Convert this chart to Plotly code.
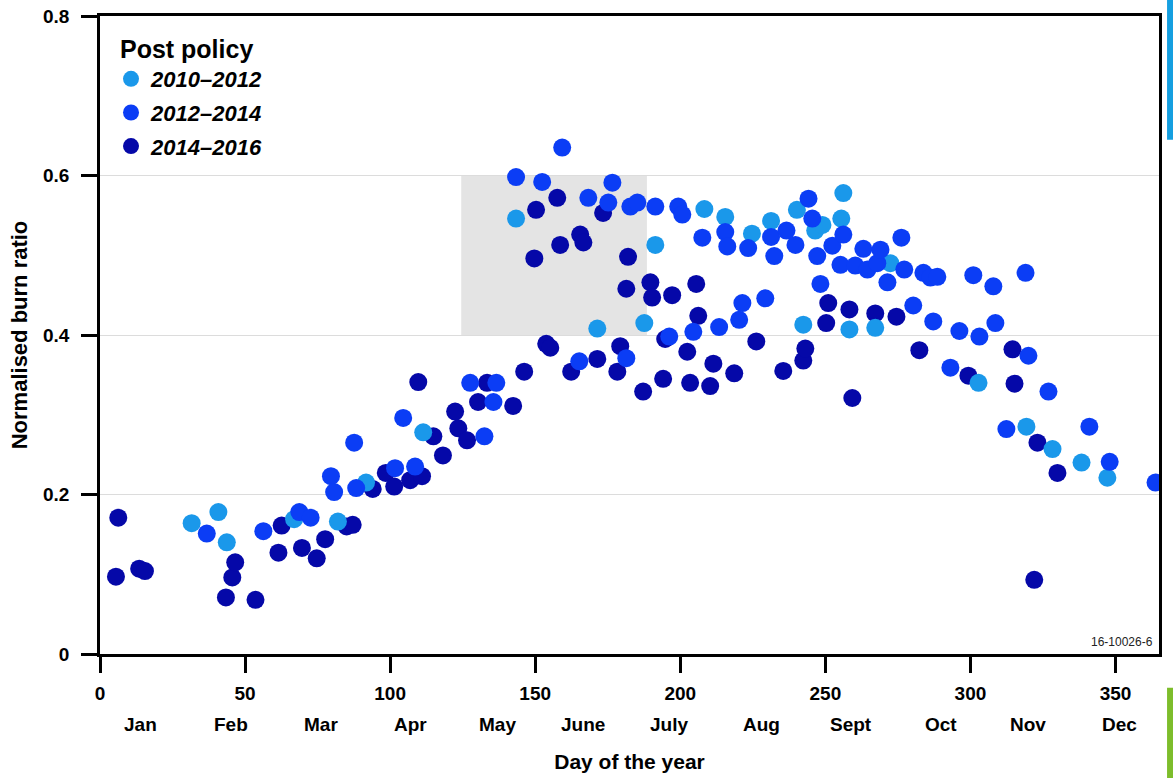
import plotly.graph_objects as go

# Values: day of the year and normalised burn ratio
days_2010_2012 = [31.6, 40.8, 43.7, 66.9, 82.0, 91.7, 111.4, 143.4, 171.4, 187.6,
                  191.4, 208.3, 215.5, 224.7, 231.3, 240.2, 242.4, 246.5, 249.0, 255.5,
                  256.2, 258.3, 267.2, 272.4, 302.8, 319.3, 328.3, 338.3, 347.2]
ratio_2010_2012 = [0.164, 0.178, 0.140, 0.169, 0.166, 0.215, 0.278, 0.546, 0.408, 0.415,
                   0.513, 0.558, 0.548, 0.527, 0.543, 0.557, 0.413, 0.531, 0.538, 0.546,
                   0.578, 0.407, 0.409, 0.490, 0.340, 0.285, 0.257, 0.240, 0.221]

days_2012_2014 = [36.8, 56.3, 68.7, 72.6, 79.6, 80.7, 87.6, 88.3, 101.7, 104.5,
                  108.6, 127.6, 132.5, 135.6, 136.6, 143.4, 152.4, 159.3, 165.2, 168.3,
                  175.2, 176.6, 181.4, 182.8, 185.2, 191.4, 196.2, 199.3, 200.7, 204.5,
                  207.6, 213.4, 215.5, 216.2, 220.3, 221.4, 223.4, 229.3, 231.3, 232.4,
                  236.6, 239.7, 244.2, 245.5, 247.2, 248.3, 252.4, 255.2, 256.2, 260.3,
                  263.1, 264.5, 267.9, 269.0, 271.4, 276.2, 277.2, 280.3, 283.8, 286.2,
                  287.2, 288.6, 293.1, 296.2, 301.0, 303.1, 307.9, 308.6, 312.4, 319.0,
                  320.0, 326.9, 341.0, 348.0, 363.8]
ratio_2012_2014 = [0.151, 0.154, 0.178, 0.171, 0.223, 0.203, 0.265, 0.208, 0.233, 0.296,
                   0.235, 0.340, 0.273, 0.316, 0.340, 0.598, 0.592, 0.635, 0.367, 0.572,
                   0.566, 0.591, 0.371, 0.561, 0.566, 0.561, 0.398, 0.561, 0.551, 0.404,
                   0.522, 0.410, 0.529, 0.511, 0.419, 0.440, 0.509, 0.446, 0.523, 0.499,
                   0.531, 0.513, 0.571, 0.546, 0.499, 0.464, 0.512, 0.488, 0.526, 0.487,
                   0.508, 0.482, 0.490, 0.507, 0.466, 0.522, 0.482, 0.437, 0.478, 0.472,
                   0.417, 0.473, 0.359, 0.405, 0.475, 0.398, 0.461, 0.415, 0.282, 0.478,
                   0.374, 0.329, 0.285, 0.241, 0.215]

days_2014_2016 = [5.5, 6.3, 13.5, 15.5, 43.4, 45.6, 46.6, 53.6, 61.5, 62.6,
                  69.6, 74.7, 77.6, 85.0, 87.1, 94.0, 98.5, 101.4, 106.9, 109.7,
                  111.0, 114.9, 118.2, 122.4, 123.5, 126.5, 130.3, 133.4, 142.4, 146.2,
                  149.7, 150.3, 153.8, 155.2, 157.6, 158.6, 162.4, 165.5, 166.6, 171.4,
                  173.4, 178.3, 179.3, 181.4, 182.0, 187.2, 189.7, 190.3, 194.1, 194.8,
                  197.2, 202.4, 203.4, 205.5, 206.2, 210.3, 211.4, 218.6, 226.2, 235.5,
                  242.4, 243.1, 250.3, 251.0, 258.3, 259.3, 267.2, 274.5, 282.4, 299.3,
                  314.5, 315.2, 322.0, 323.1, 330.0]
ratio_2014_2016 = [0.097, 0.171, 0.107, 0.104, 0.071, 0.096, 0.115, 0.068, 0.127, 0.161,
                   0.133, 0.120, 0.144, 0.160, 0.162, 0.207, 0.227, 0.210, 0.218, 0.341,
                   0.223, 0.273, 0.249, 0.304, 0.283, 0.268, 0.316, 0.340, 0.311, 0.354,
                   0.496, 0.557, 0.389, 0.384, 0.572, 0.513, 0.354, 0.526, 0.516, 0.370,
                   0.553, 0.354, 0.386, 0.458, 0.498, 0.329, 0.466, 0.447, 0.345, 0.395,
                   0.450, 0.379, 0.340, 0.464, 0.424, 0.336, 0.364, 0.352, 0.392, 0.355,
                   0.368, 0.383, 0.415, 0.440, 0.432, 0.321, 0.427, 0.423, 0.381, 0.349,
                   0.382, 0.339, 0.093, 0.265, 0.227]

month_names = ["Jan", "Feb", "Mar", "Apr", "May", "June", "July", "Aug", "Sept", "Oct", "Nov", "Dec"]
month_days = [14, 45, 76, 107, 137, 166.5, 196, 228, 259, 290, 320, 351.5]

# shaded window
highlight_days = [124.5, 188.5]
highlight_ratio = [0.4, 0.6]

font_family = "Liberation Sans, Arial, sans-serif"

series = [
    # drawn in this order: darkest first so the lighter blues sit on top
    ("2014–2016", days_2014_2016, ratio_2014_2016, "#0508a8", 3),
    ("2010–2012", days_2010_2012, ratio_2010_2012, "#1a98ea", 1),
    ("2012–2014", days_2012_2014, ratio_2012_2014, "#0b3df5", 2),
]

fig = go.Figure()
for name, x, y, color, rank in series:
    fig.add_trace(go.Scatter(
        x=x, y=y, mode="markers", name=name,
        legendgroup=name, legendrank=rank,
        marker=dict(color=color, size=18, line=dict(width=0)),
    ))

fig.add_shape(
    type="rect", xref="x", yref="y",
    x0=highlight_days[0], x1=highlight_days[1],
    y0=highlight_ratio[0], y1=highlight_ratio[1],
    fillcolor="#e4e4e4", line=dict(width=0), layer="below",
)

# page decorations at the right edge
fig.add_shape(type="rect", xref="paper", yref="paper", x0=1.0076, x1=1.02, y0=0.806, y1=1.03,
              fillcolor="#159fe0", line=dict(width=0))
fig.add_shape(type="rect", xref="paper", yref="paper", x0=1.0076, x1=1.02, y0=-0.2, y1=-0.053,
              fillcolor="#7dbd2b", line=dict(width=0))

for name, d in zip(month_names, month_days):
    fig.add_annotation(x=d, y=0, xref="x", yref="paper", text=name, showarrow=False,
                       yanchor="middle", yshift=-70,
                       font=dict(family=font_family, size=19, color="black", weight="bold"))

fig.add_annotation(x=1, y=0, xref="paper", yref="paper", text="16-10026-6", showarrow=False,
                   xanchor="right", yanchor="bottom", xshift=-4, yshift=3,
                   font=dict(family=font_family, size=12, color="#222"))

fig.update_layout(
    width=1173, height=778,
    margin=dict(l=100, r=14, t=16, b=124, autoexpand=False),
    paper_bgcolor="white", plot_bgcolor="white",
    showlegend=True,
    legend=dict(
        x=0.0104, y=0.985, xanchor="left", yanchor="top",
        bgcolor="rgba(0,0,0,0)", tracegroupgap=2,
        title=dict(text="&nbsp;Post policy",
                   font=dict(family=font_family, size=25, weight="bold", style="normal", color="black")),
        font=dict(family=font_family, size=22, weight="bold", style="italic", color="black"),
    ),
    xaxis=dict(
        range=[0, 365], tick0=0, dtick=50, showgrid=False, zeroline=False, automargin=False,
        showline=True, linecolor="black", linewidth=2.5, mirror=True,
        ticks="outside", ticklen=16, tickwidth=2.5, tickcolor="black",
        ticklabelstandoff=4,
        tickfont=dict(family=font_family, size=19, color="black", weight="bold"),
        title=dict(text="Day of the year", standoff=52,
                   font=dict(family=font_family, size=21, color="black", weight="bold")),
    ),
    yaxis=dict(
        range=[0, 0.8], tick0=0, dtick=0.2, showgrid=True, gridcolor="#dcdcdc", gridwidth=1,
        zeroline=False, showline=True, linecolor="black", linewidth=2.5, mirror=True,
        automargin=False, ticklabeloverflow="allow",
        ticks="outside", ticklen=16, tickwidth=2.5, tickcolor="black",
        ticklabelstandoff=8,
        tickfont=dict(family=font_family, size=19, color="black", weight="bold"),
        title=dict(text="Normalised burn ratio", standoff=10,
                   font=dict(family=font_family, size=22, color="black", weight="bold")),
    ),
)

# drop the browser's default body margin so the figure fills the window exactly
fig.write_html("out.html", config={"displayModeBar": False},
               post_script="document.body.style.margin = '0';")
